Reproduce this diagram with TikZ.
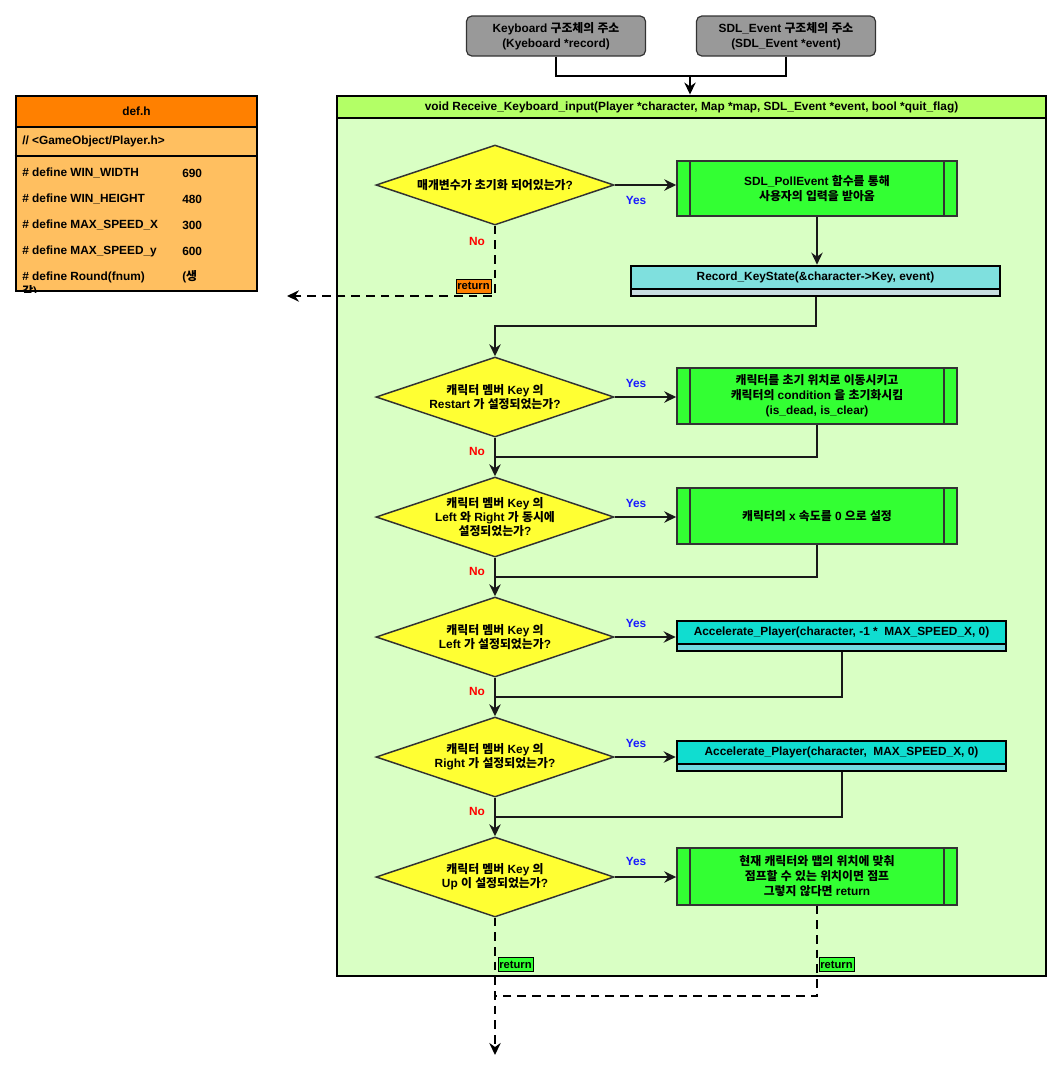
\documentclass[tikz,border=0pt]{standalone}
\usepackage{fontspec}
\setmainfont{Liberation Sans}
\newfontfamily\latfont{Liberation Sans}
\newfontfamily\krfont{Noto Sans CJK KR}
% switch to the Korean face for Hangul syllables and back for everything else
\XeTeXinterchartokenstate=1
\newXeTeXintercharclass\hangulclass
\newcount\hcnt
\hcnt="AC00
\loop \XeTeXcharclass\hcnt=\hangulclass \advance\hcnt by 1 \ifnum\hcnt<"D7A4 \repeat
\XeTeXinterchartoks 0 \hangulclass={\krfont}
\XeTeXinterchartoks 4095 \hangulclass={\krfont}
\XeTeXinterchartoks \hangulclass 0={\latfont}
\XeTeXinterchartoks \hangulclass 4095={\latfont}
\usetikzlibrary{arrows.meta,shapes.geometric,calc}

\definecolor{paramgray}{HTML}{999999}
\definecolor{fnhead}{HTML}{B3FF66}
\definecolor{fnbody}{HTML}{D9FFC4}
\definecolor{dechead}{HTML}{FF8000}
\definecolor{decbody}{HTML}{FFBF60}
\definecolor{decyellow}{HTML}{FFFF33}
\definecolor{procgreen}{HTML}{33FF33}
\definecolor{recheadc}{HTML}{7FE0DE}
\definecolor{recstripc}{HTML}{C8DDE0}
\definecolor{accheadc}{HTML}{10DDD0}
\definecolor{accstripc}{HTML}{72D9E0}
\definecolor{edgegray}{HTML}{333333}
\definecolor{yesblue}{HTML}{1A1AFF}
\definecolor{nored}{HTML}{FF0000}

\begin{document}
\begin{tikzpicture}[x=0.75pt,y=-0.75pt,
  font=\latfont\bfseries\fontsize{8.9pt}{11.25pt}\selectfont,
  param/.style={draw=edgegray, fill=paramgray, line width=0.9pt, rounded corners=4pt,
    minimum width={179*0.75pt}, minimum height={40*0.75pt}, align=center, inner sep=0pt},
  dec/.style={diamond, draw=edgegray, fill=decyellow, line width=1.1pt, aspect=3.1,
    inner sep=-6pt, minimum width={238*0.75pt}, minimum height={80*0.75pt}, align=center,
    font=\latfont\bfseries\fontsize{8.9pt}{10.5pt}\selectfont},
  proc/.style={draw=edgegray, fill=procgreen, line width=1.1pt, align=center,
    minimum width={280*0.75pt}, inner sep=0pt,
    path picture={
      \draw[edgegray, line width=1.1pt]
        ([xshift=9.75pt]path picture bounding box.north west) --
        ([xshift=9.75pt]path picture bounding box.south west)
        ([xshift=-9.75pt]path picture bounding box.north east) --
        ([xshift=-9.75pt]path picture bounding box.south east);}},
  subhead/.style={draw=black, line width=2pt, inner sep=0pt, minimum height={23*0.75pt}},
  substrip/.style={draw=black, line width=2pt, inner sep=0pt, minimum height={7*0.75pt}},
  yes/.style={text=yesblue, inner sep=0pt},
  no/.style={text=nored, inner sep=0pt},
  ret/.style={draw=black, line width=0.6pt, inner sep=1pt, minimum height={14*0.75pt},
    font=\latfont\bfseries\fontsize{8.4pt}{9pt}\selectfont},
  defrow/.style={anchor=west, inner sep=0pt},
  flow/.style={draw=black!90, line width=1.5pt},
  tip/.style={-{Stealth[length=9pt,width=8.5pt,inset=3pt]}},
  dashline/.style={draw=black, line width=1.9pt, dash pattern=on 6.5pt off 4.5pt}
]
\useasboundingbox (0,0) rectangle (1063,1083);

% ---- function container ----
\node[draw=black, line width=2.2pt, fill=fnbody, minimum width={709*0.75pt},
      minimum height={858*0.75pt}, inner sep=0pt] (fnbody) at (691.5,547) {};
\node[draw=black, line width=2.2pt, fill=fnhead, minimum width={709*0.75pt},
      minimum height={22*0.75pt}, inner sep=0pt] (fn) at (691.5,107)
  {void Receive\_Keyboard\_input(Player *character, Map *map, SDL\_Event *event, bool *quit\_flag)};

% ---- parameters ----
\node[param] (kb) at (556,36) {Keyboard 구조체의 주소\\(Kyeboard *record)};
\node[param] (ev) at (786,36) {SDL\_Event 구조체의 주소\\(SDL\_Event *event)};
\coordinate (merge) at (690,76);
\draw[line width=2.2pt] (kb.south) |- (merge);
\draw[line width=2.2pt] (ev.south) |- (merge);
\draw[line width=2.2pt, tip] (merge) -- (merge |- fn.north);

% ---- def.h ----
\node[draw=black, line width=2pt, fill=decbody, minimum width={241*0.75pt},
      minimum height={164*0.75pt}, inner sep=0pt] (defbody) at (136.5,209) {};
\node[draw=black, line width=2pt, fill=dechead, minimum width={241*0.75pt},
      minimum height={31*0.75pt}, inner sep=0pt] (defhead) at (136.5,111.5) {def.h};
\draw[line width=0.8pt] (defbody.west |- 0,156) -- (defbody.east |- 0,156);
\node[defrow] (inc) at (22,141) {// <GameObject/Player.h>};
\node[defrow] (w1) at (22,173) {\# define WIN\_WIDTH};
\node[defrow] (w1v) at (182,173) {690};
\node[defrow] (w2) at (22,199) {\# define WIN\_HEIGHT};
\node[defrow] (w2v) at (182,199) {480};
\node[defrow] (w3) at (22,225) {\# define MAX\_SPEED\_X};
\node[defrow] (w3v) at (182,225) {300};
\node[defrow] (w4) at (22,251) {\# define MAX\_SPEED\_y};
\node[defrow] (w4v) at (182,251) {600};
\node[defrow] (w5) at (22,277) {\# define Round(fnum)};
\node[defrow] (w5v) at (182,277) {(생};
\begin{scope}
  \clip (16,96) rectangle (257,292);
  \node[defrow] (w5w) at (22,292) {각)};
\end{scope}

% ---- decisions and actions ----
\node[dec] (d1) at (495,185) {매개변수가 초기화 되어있는가?};
\node[proc, minimum height={55*0.75pt}] (p1) at (817,188.5)
  {SDL\_PollEvent 함수를 통해\\사용자의 입력을 받아옴};
\node[subhead, fill=recheadc, minimum width={369*0.75pt}] (rec) at (815.5,277.5)
  {Record\_KeyState(\&character->Key, event)};
\node[substrip, fill=recstripc, minimum width={369*0.75pt}] (recs) at (815.5,292.5) {};

\node[dec] (d2) at (495,397) {캐릭터 멤버 Key 의\\Restart 가 설정되었는가?};
\node[proc, minimum height={56*0.75pt}] (p2) at (817,396)
  {캐릭터를 초기 위치로 이동시키고\\캐릭터의 condition 을 초기화시킴\\(is\_dead, is\_clear)};

\node[dec] (d3) at (495,517) {캐릭터 멤버 Key 의\\Left 와 Right 가 동시에\\설정되었는가?};
\node[proc, minimum height={56*0.75pt}] (p3) at (817,516) {캐릭터의 x 속도를 0 으로 설정};

\node[dec] (d4) at (495,637) {캐릭터 멤버 Key 의\\Left 가 설정되었는가?};
\node[subhead, fill=accheadc, minimum width={329*0.75pt}] (a1) at (841.5,632.5)
  {Accelerate\_Player(character, -1 *\ \ MAX\_SPEED\_X, 0)};
\node[substrip, fill=accstripc, minimum width={329*0.75pt}] (a1s) at (841.5,647.5) {};

\node[dec] (d5) at (495,757) {캐릭터 멤버 Key 의\\Right 가 설정되었는가?};
\node[subhead, fill=accheadc, minimum width={329*0.75pt}] (a2) at (841.5,752.5)
  {Accelerate\_Player(character,\ \ MAX\_SPEED\_X, 0)};
\node[substrip, fill=accstripc, minimum width={329*0.75pt}] (a2s) at (841.5,767.5) {};

\node[dec] (d6) at (495,877) {캐릭터 멤버 Key 의\\Up 이 설정되었는가?};
\node[proc, minimum height={57*0.75pt}] (p6) at (817,876.5)
  {현재 캐릭터와 맵의 위치에 맞춰\\점프할 수 있는 위치이면 점프\\그렇지 않다면 return};

% ---- Yes branches ----
\draw[flow, tip] (d1.east) -- (d1.east -| p1.west);
\draw[flow, tip] (d2.east) -- (d2.east -| p2.west);
\draw[flow, tip] (d3.east) -- (d3.east -| p3.west);
\draw[flow, tip] (d4.east) -- (d4.east -| a1.west);
\draw[flow, tip] (d5.east) -- (d5.east -| a2.west);
\draw[flow, tip] (d6.east) -- (d6.east -| p6.west);
\draw[flow, tip] (p1.south) -- (p1.south |- rec.north);

% ---- joins back to the main column ----
\draw[flow, tip] (recs.south) -- ++(0,29) -| (d2.north);
\draw[flow, tip] (d2.south) -- (d3.north);
\draw[flow] (p2.south) |- ($(d2.south)!0.5!(d3.north)$);
\draw[flow, tip] (d3.south) -- (d4.north);
\draw[flow] (p3.south) |- ($(d3.south)!0.5!(d4.north)$);
\draw[flow, tip] (d4.south) -- (d5.north);
\draw[flow] (a1s.south) |- ($(d4.south)!0.5!(d5.north)$);
\draw[flow, tip] (d5.south) -- (d6.north);
\draw[flow] (a2s.south) |- ($(d5.south)!0.5!(d6.north)$);

% ---- early return and exits ----
\coordinate (back) at (287,296);
\draw[dashline, tip] (d1.south) |- (back);
\coordinate (exitjoin) at (495,996);
\coordinate (exit) at (495,1055);
\draw[dashline, tip] (d6.south) -- (exit);
\draw[dashline] (p6.south) |- (exitjoin);

% ---- labels ----
\node[yes] (y1) at (636,200) {Yes};
\node[yes] (y2) at (636,383) {Yes};
\node[yes] (y3) at (636,503) {Yes};
\node[yes] (y4) at (636,623) {Yes};
\node[yes] (y5) at (636,743) {Yes};
\node[yes] (y6) at (636,861) {Yes};
\node[no] (n1) at (477,241) {No};
\node[no] (n2) at (477,451) {No};
\node[no] (n3) at (477,571) {No};
\node[no] (n4) at (477,691) {No};
\node[no] (n5) at (477,811) {No};

\node[ret, fill=dechead] (r1) at (473.5,286) {return};
\node[ret, fill=procgreen] (r2) at (515.5,964.5) {return};
\node[ret, fill=procgreen] (r3) at (836.5,964.5) {return};
\end{tikzpicture}
\end{document}
